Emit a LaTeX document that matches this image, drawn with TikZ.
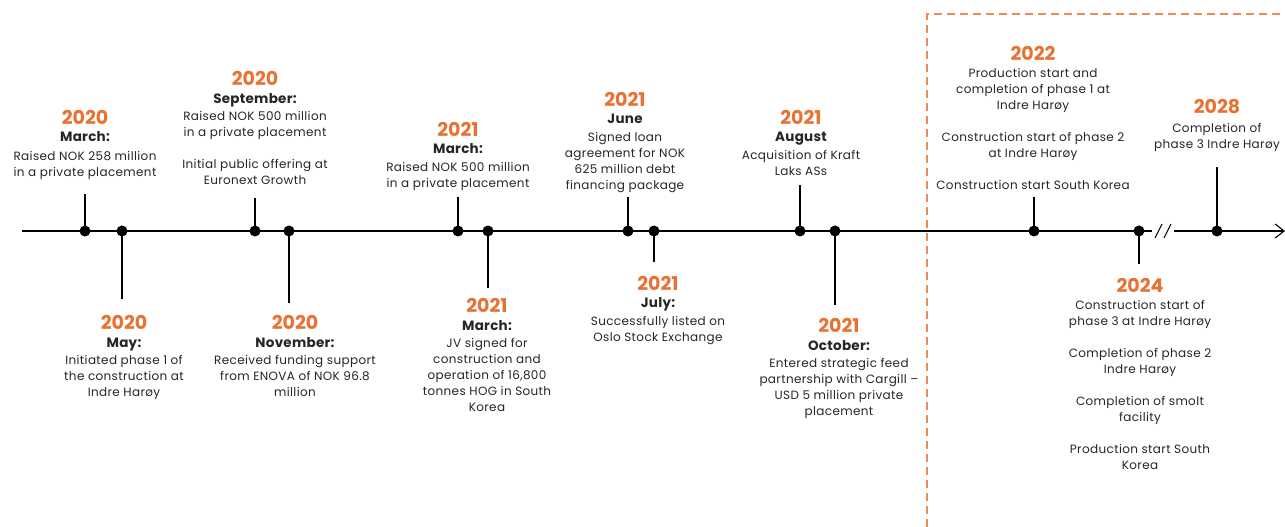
\documentclass[tikz,border=0pt]{standalone}
\usepackage{fontspec}
\setmainfont{Poppins}
\newfontfamily\bodyfont[LetterSpace=3]{Poppins}
\newfontfamily\monfont[LetterSpace=2]{Poppins}
\usetikzlibrary{arrows.meta}
\definecolor{orng}{HTML}{E97132}
\definecolor{dashorng}{HTML}{EE8A5A}
\definecolor{txtgray}{HTML}{262626}
\begin{document}
\begin{tikzpicture}[x=1bp,y=-1bp,
 yr/.style={font=\fontsize{19bp}{20bp}\selectfont\bfseries, text=orng, inner sep=0, anchor=center},
 mon/.style={font=\monfont\fontsize{13.5bp}{16bp}\selectfont\bfseries, text=txtgray, inner sep=0, anchor=base},
 body/.style={font=\bodyfont\fontsize{12bp}{16bp}\selectfont, inner sep=0, anchor=north, align=center, text=txtgray},
 dot/.style={circle, fill=black, inner sep=0, minimum size=11bp},
 stem/.style={line width=1.1bp, black},
 axis/.style={line width=1.1bp, black},
]
\useasboundingbox (0,0) rectangle (1285,527);
\fill[white] (0,0) rectangle (1285,527);

% dashed frame of the outlook area
\draw[dashorng, line width=1.2bp, dash pattern=on 8bp off 5bp] (927,540) -- (927,14) -- (1300,14);

% axis
\coordinate (L0) at (22,231);
\coordinate (B1) at (1152,231);
\coordinate (B2) at (1174,231);
\coordinate (L1) at (1285,231);
\draw[axis] (L0) -- (B1);
\draw[axis, -{Straight Barb[length=9bp,width=14bp,line width=1.1bp]}] (B2) -- (L1);
\draw[axis] (1155,238) -- (1162,224);
\draw[axis] (1164,238) -- (1171,224);

% dots
\node[dot] (d1) at (85,231) {};
\node[dot] (d2) at (122,231) {};
\node[dot] (d3) at (255,231) {};
\node[dot] (d4) at (289,231) {};
\node[dot] (d5) at (458,231) {};
\node[dot] (d6) at (488,231) {};
\node[dot] (d7) at (628,231) {};
\node[dot] (d8) at (654,231) {};
\node[dot] (d9) at (800,231) {};
\node[dot] (d10) at (835,231) {};
\node[dot] (d11) at (1034,231) {};
\node[dot] (d12) at (1139,231) {};
\node[dot] (d13) at (1217,231) {};

% stem ends
\coordinate (t1) at (85,194);
\coordinate (t2) at (122,299);
\coordinate (t3) at (255,198);
\coordinate (t4) at (289,303);
\coordinate (t5) at (458,197);
\coordinate (t6) at (488,288);
\coordinate (t7) at (628,197);
\coordinate (t8) at (654,262);
\coordinate (t9) at (800,185);
\coordinate (t10) at (835,305);
\coordinate (t11) at (1034,197);
\coordinate (t12) at (1139,264);
\coordinate (t13) at (1217,167);
\foreach \i in {1,...,13} {\draw[stem] (d\i.center) -- (t\i);}

% labels above the axis
\node[yr] (y1) at (85,117) {2020};
\node[mon] (m1) at (85,141.7) {March:};
\node[body] (b1) at (85,149) {\strut Raised NOK 258 million\\in a private placement};

\node[yr] (y3) at (255,78) {2020};
\node[mon] (m3) at (255,103.7) {September:};
\node[body] (b3) at (255,109) {\strut Raised NOK 500 million\\in a private placement\\[16bp]Initial public offering at\\Euronext Growth};

\node[yr] (y5) at (458,129) {2021};
\node[mon] (m5) at (458,153.7) {March:};
\node[body] (b5) at (458,160) {\strut Raised NOK 500 million\\in a private placement};

\node[yr] (y7) at (625,99) {2021};
\node[mon] (m7) at (625,123.7) {June};
\node[body] (b7) at (625,130) {\strut Signed loan\\agreement for NOK\\625 million debt\\financing package};

\node[yr] (y9) at (801,117) {2021};
\node[mon] (m9) at (801,141.7) {August};
\node[body] (b9) at (801,148) {\strut Acquisition of Kraft\\Laks ASs};

\node[yr] (y11) at (1033,53) {2022};
\node[body] (b11) at (1033,66) {\strut Production start and\\completion of phase 1 at\\Indre Harøy\\[16bp]Construction start of phase 2\\at Indre Harøy\\[16bp]Construction start South Korea};

\node[yr] (y13) at (1217,107) {2028};
\node[body] (b13) at (1217,121) {\strut Completion of\\phase 3 Indre Harøy};

% labels below the axis
\node[yr] (y2) at (124,322) {2020};
\node[mon] (m2) at (124,347.7) {May:};
\node[body] (b2) at (124,353) {\strut Initiated phase 1 of\\the construction at\\Indre Harøy};

\node[yr] (y4) at (295,322) {2020};
\node[mon] (m4) at (295,347.7) {November:};
\node[body] (b4) at (295,353) {\strut Received funding support\\from ENOVA of NOK 96.8\\million};

\node[yr] (y6) at (487,305) {2021};
\node[mon] (m6) at (487,330.7) {March:};
\node[body] (b6) at (487,336) {\strut JV signed for\\construction and\\operation of 16,800\\tonnes HOG in South\\Korea};

\node[yr] (y8) at (658,283) {2021};
\node[mon] (m8) at (658,307.7) {July:};
\node[body] (b8) at (658,314) {\strut Successfully listed on\\Oslo Stock Exchange};

\node[yr] (y10) at (839,325) {2021};
\node[mon] (m10) at (839,350.7) {October:};
\node[body] (b10) at (839,356) {\strut Entered strategic feed\\partnership with Cargill –\\USD 5 million private\\placement};

\node[yr] (y12) at (1140,285) {2024};
\node[body] (b12) at (1140,298) {\strut Construction start of\\phase 3 at Indre Harøy\\[16bp]Completion of phase 2\\Indre Harøy\\[16bp]Completion of smolt\\facility\\[16bp]Production start South\\Korea};
\end{tikzpicture}
\end{document}
